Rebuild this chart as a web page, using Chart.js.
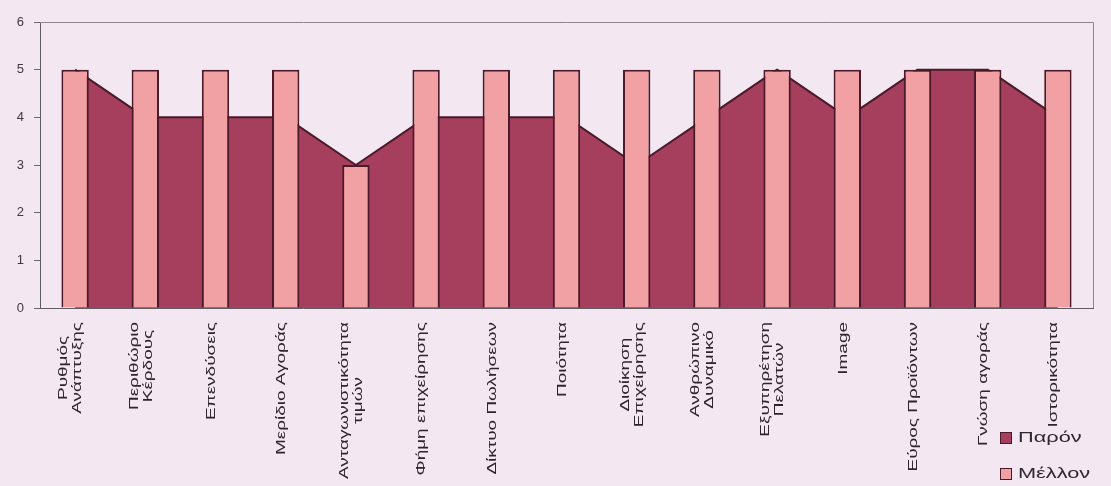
<!DOCTYPE html>
<html>
<head>
<meta charset="utf-8">
<script src="https://cdn.jsdelivr.net/npm/chart.js@4/dist/chart.umd.min.js"></script>
<style>
  html, body { margin: 0; padding: 0; background: #f3e8f1; }
  #wrap { width: 1111px; height: 486px; }
</style>
</head>
<body>
<div id="wrap"><canvas id="factorsChart" width="1111" height="486"></canvas></div>
<script>
// categories, one array of text lines per label
const categories = [
    ['Ρυθμός', 'Ανάπτυξης'],
    ['Περιθώριο', 'Κέρδους'],
    ['Επενδύσεις'],
    ['Μερίδιο Αγοράς'],
    ['Ανταγωνιστικότητα', 'τιμών'],
    ['Φήμη επιχείρησης'],
    ['Δίκτυο Πωλήσεων'],
    ['Ποιότητα'],
    ['Διοίκηση', 'Επιχείρησης'],
    ['Ανθρώπινο', 'Δυναμικό'],
    ['Εξυπηρέτηση', 'Πελατών'],
    ['Image'],
    ['Εύρος Προϊόντων'],
    ['Γνώση αγοράς'],
    ['Ιστορικότητα']
];
const presentValues = [5, 4, 4, 4, 3, 4, 4, 4, 3, 4, 5, 4, 5, 5, 4];
const futureValues = [5, 5, 5, 5, 3, 5, 5, 5, 5, 5, 5, 5, 5, 5, 5];
const yTickValues = [0, 1, 2, 3, 4, 5, 6];

const presentColor = '#a53f5d';
const futureColor = '#f1a1a3';
const edgeColor = '#4a1a2b';

// rotated, centred multi-line category labels, plot frame and legend
const labelsAndLegend = {
    id: 'labelsAndLegend',
    afterDraw(chart) {
        const ctx = chart.ctx;
        const a = chart.chartArea;
        const x = chart.scales.x;
        ctx.save();

        ctx.strokeStyle = '#8d8893';
        ctx.lineWidth = 1;
        ctx.beginPath();
        ctx.moveTo(a.left, a.top + 0.5);
        ctx.lineTo(a.right + 0.5, a.top + 0.5);
        ctx.lineTo(a.right + 0.5, a.bottom);
        ctx.stroke();

        ctx.font = '12px "Liberation Sans", Arial, sans-serif';
        ctx.fillStyle = '#2c2530';
        ctx.textAlign = 'center';
        ctx.textBaseline = 'middle';
        categories.forEach(function (lines, i) {
            const px = x.getPixelForValue(i) - 4;
            const len = Math.max.apply(null, lines.map(l => ctx.measureText(l).width));
            ctx.save();
            ctx.translate(px, x.top + 14);
            ctx.rotate(-Math.PI / 2);
            ctx.scale(1.58, 1);
            lines.forEach(function (l, k) {
                ctx.fillText(l, -len / 2, (k - (lines.length - 1) / 2) * 14);
            });
            ctx.restore();
        });

        // legend: Παρόν first, then Μέλλον
        const items = chart.data.datasets.slice().reverse();
        ctx.font = '15px "Liberation Sans", Arial, sans-serif';
        ctx.textAlign = 'left';
        items.forEach(function (ds, k) {
            const cy = 438 + k * 36;
            ctx.fillStyle = ds.backgroundColor;
            ctx.fillRect(1000, cy - 6, 12, 12);
            ctx.strokeStyle = edgeColor;
            ctx.lineWidth = 1;
            ctx.strokeRect(1000.5, cy - 5.5, 11, 11);
            ctx.save();
            ctx.translate(1018, cy);
            ctx.scale(1.45, 1);
            ctx.fillStyle = '#2e2832';
            ctx.fillText(ds.label, 0, 0);
            ctx.restore();
        });

        ctx.restore();
    }
};

new Chart(document.getElementById('factorsChart'), {
    type: 'bar',
    data: {
        labels: categories,
        datasets: [
            {
                type: 'bar',
                label: 'Μέλλον',
                data: futureValues,
                backgroundColor: futureColor,
                borderColor: edgeColor,
                borderWidth: 2,
                barPercentage: 0.39,
                categoryPercentage: 1,
                order: 0
            },
            {
                type: 'line',
                label: 'Παρόν',
                data: presentValues,
                backgroundColor: presentColor,
                borderColor: edgeColor,
                borderWidth: 2,
                borderJoinStyle: 'round',
                fill: 'origin',
                tension: 0,
                pointRadius: 0,
                order: 1
            }
        ]
    },
    options: {
        responsive: false,
        animation: false,
        layout: { padding: { top: 22, right: 18, left: 0, bottom: 0 } },
        plugins: {
            legend: { display: false },
            tooltip: { enabled: false }
        },
        scales: {
            x: {
                offset: true,
                grid: { display: false },
                border: { display: true, color: '#5f5a63', width: 1 },
                ticks: { display: false },
                afterFit(scale) { scale.height = 178; }
            },
            y: {
                min: yTickValues[0],
                max: yTickValues[yTickValues.length - 1],
                afterBuildTicks(scale) { scale.ticks = yTickValues.map(v => ({ value: v })); },
                ticks: {
                    color: '#3e3844',
                    font: { size: 13, family: '"Liberation Sans", Arial, sans-serif' },
                    padding: 10
                },
                grid: { drawOnChartArea: false, tickLength: 6, color: '#6a6570' },
                border: { color: '#5f5a63', width: 1 },
                afterFit(scale) { scale.width = 40; }
            }
        }
    },
    plugins: [labelsAndLegend]
});
</script>
</body>
</html>
